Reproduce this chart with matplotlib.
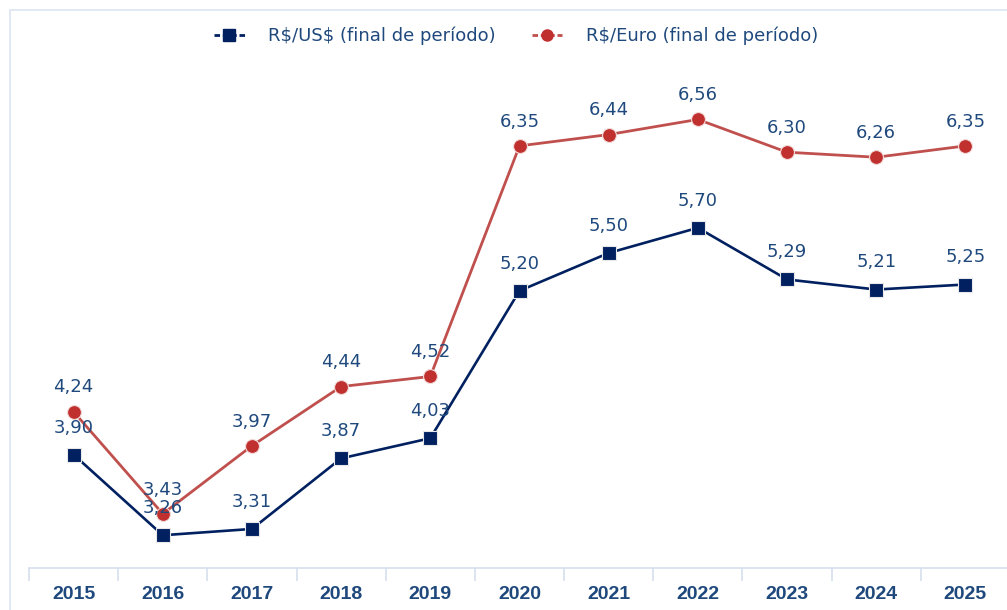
import matplotlib
matplotlib.use("Agg")
import matplotlib.pyplot as plt
from matplotlib.patches import Rectangle
from matplotlib.lines import Line2D

years = ["2015", "2016", "2017", "2018", "2019", "2020", "2021", "2022", "2023", "2024", "2025"]
usd = [3.90, 3.26, 3.31, 3.87, 4.03, 5.20, 5.50, 5.70, 5.29, 5.21, 5.25]
eur = [4.24, 3.43, 3.97, 4.44, 4.52, 6.35, 6.44, 6.56, 6.30, 6.26, 6.35]
series_names = ["R\\$/US\\$ (final de período)", "R\\$/Euro (final de período)"]

W, H = 1007, 610
fig = plt.figure(figsize=(W / 100, H / 100), dpi=100)
fig.patches.append(Rectangle((10 / W, -0.1), 1.2, (H - 10) / H + 0.1, transform=fig.transFigure,
                             fill=False, edgecolor="#DCE6F2", linewidth=1.2))

left_px, right_px = 29, 1010
bot_px, top_px = 568, 64
ax = fig.add_axes([left_px / W, (H - bot_px) / H, (right_px - left_px) / W, (bot_px - top_px) / H])
ax.set_xlim(-0.5, len(years) - 0.5)
ax.set_ylim(3.0, 7.0)

x = list(range(len(years)))
navy = "#002060"
red = "#C0504D"
lab = "#1F497D"

ax.plot(x, usd, color=navy, lw=1.9, marker="s", ms=10, mfc=navy, mec="#E8E8E8", mew=0.8, zorder=3)
ax.plot(x, eur, color=red, lw=2.0, marker="o", ms=10, mfc="#C0302F", mec="#F2DCDB", mew=0.8, zorder=3)

fs = 13
for xi, v in zip(x, usd):
    ax.annotate(f"{v:.2f}".replace(".", ","), (xi, v), xytext=(0, 13), textcoords="offset points",
                ha="center", va="bottom", color=lab, fontsize=fs, family="DejaVu Sans", zorder=5)
for xi, v in zip(x, eur):
    ax.annotate(f"{v:.2f}".replace(".", ","), (xi, v), xytext=(0, 11), textcoords="offset points",
                ha="center", va="bottom", color=lab, fontsize=fs, family="DejaVu Sans", zorder=5)

for s in ["top", "right", "left"]:
    ax.spines[s].set_visible(False)
ax.spines["bottom"].set_color("#D5DFEE")
ax.spines["bottom"].set_linewidth(1.2)
ax.set_yticks([])
ax.set_xticks([i - 0.5 for i in range(len(years) + 1)])
ax.set_xticklabels([])
ax.set_xticks(x, minor=True)
ax.set_xticklabels(years, minor=True, fontsize=14, fontweight="bold", color=lab,
                   family=["Liberation Sans", "DejaVu Sans"])
ax.tick_params(axis="x", which="major", length=9, color="#D5DFEE", width=1.2, direction="out")
ax.tick_params(axis="x", which="minor", length=0, pad=13)

handles = [
    Line2D([], [], color=navy, lw=2, ls=(0, (2.0, 1.0)), marker="s", ms=8, mfc=navy, mec=navy),
    Line2D([], [], color=red, lw=2, ls=(0, (2.0, 1.0)), marker="o", ms=8, mfc="#C0302F", mec="#C0302F"),
]
fig.legend(handles, series_names,
           loc="center", bbox_to_anchor=(516 / W, (H - 36) / H), ncol=2, frameon=False,
           fontsize=13, labelcolor=lab, handlelength=1.7, columnspacing=2.0, handletextpad=1.3)

fig.savefig("out.png", dpi=100)
